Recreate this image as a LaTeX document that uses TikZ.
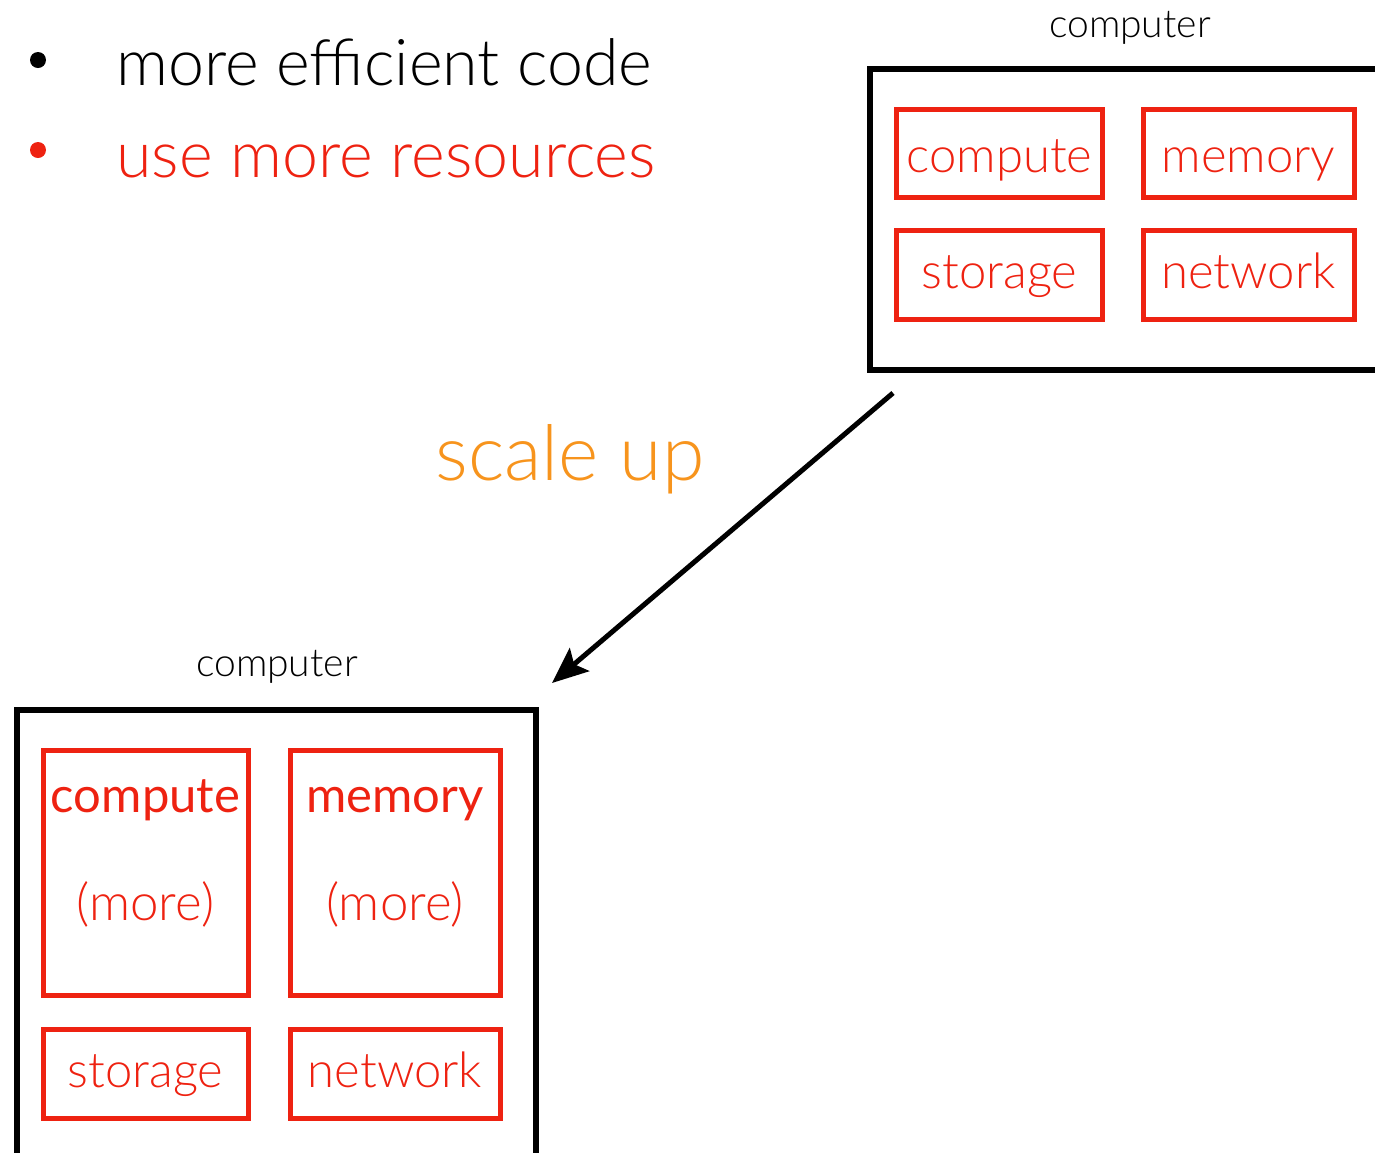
\documentclass[tikz,border=0pt]{standalone}
\usepackage{fontspec}
\setmainfont{Lato Light}[BoldFont={Lato}]
\usetikzlibrary{arrows.meta}
\definecolor{cred}{HTML}{EE2211}
\definecolor{corange}{HTML}{F7941D}
\tikzset{
  pc/.style={draw=black,line width=5.5pt},
  part/.style={draw=cred,line width=5pt,text=cred,inner sep=0pt},
  lab/.style={inner sep=0pt,anchor=base},
  ptext/.style={lab,text=cred,font=\fontsize{49}{54}\selectfont},
}
\begin{document}
\begin{tikzpicture}[x=1pt,y=-1pt]
\useasboundingbox (0,0) rectangle (1375,1152);
\begin{scope}
\clip (0,0) rectangle (1375,1152);
% bullets
\node[circle,fill=black,minimum size=16pt,inner sep=0pt] (b1) at (38,60) {};
\node[circle,fill=cred,minimum size=16pt,inner sep=0pt] (b2) at (38,150) {};
\node[lab,anchor=base west,font=\fontsize{64.5}{70}\selectfont] (t1) at (116,85) {more efficient code};
\node[lab,anchor=base west,font=\fontsize{64.5}{70}\selectfont,text=cred] (t2) at (116,177) {use more resources};
% top computer
\node[lab,font=\fontsize{39}{44}\selectfont] (c1) at (1130,37) {computer};
\draw[pc] (1385,69) -- (870,69) -- (870,370) -- (1385,370);
\node[part,minimum width=206pt,minimum height=88pt] (tcomp) at (999.5,153.5) {};
\node[ptext] at (999.5,172) {compute};
\node[part,minimum width=211pt,minimum height=88pt] (tmem) at (1248.5,153.5) {};
\node[ptext] at (1248.5,172) {memory};
\node[part,minimum width=206pt,minimum height=89pt] (tsto) at (999.5,274.5) {};
\node[ptext] at (999.5,288) {storage};
\node[part,minimum width=211pt,minimum height=89pt] (tnet) at (1248.5,274.5) {};
\node[ptext] at (1248.5,288) {network};
% scale up
\node[lab,text=corange,font=\fontsize{77}{84}\selectfont] (su) at (570,480) {scale up};
\coordinate (as) at (893,393);
\coordinate (ae) at (552,683);
\draw[line width=5pt,-{Stealth[length=36pt,width=30pt,inset=7pt]}] (as) -- (ae);
% bottom computer
\node[lab,font=\fontsize{39}{44}\selectfont] (c2) at (277,676) {computer};
\draw[pc] (17,1165) -- (17,710) -- (536,710) -- (536,1165);
\node[part,minimum width=205pt,minimum height=245pt] (bcomp) at (145.5,872.5) {};
\node[lab,text=cred,font=\fontsize{49}{54}\selectfont\bfseries] at (145.5,812) {compute};
\node[ptext,font=\fontsize{51}{56}\selectfont] at (145.5,920) {(more)};
\node[part,minimum width=210pt,minimum height=245pt] (bmem) at (395,872.5) {};
\node[lab,text=cred,font=\fontsize{49}{54}\selectfont\bfseries] at (395,812) {memory};
\node[ptext,font=\fontsize{51}{56}\selectfont] at (395,920) {(more)};
\node[part,minimum width=205pt,minimum height=89pt] (bsto) at (145.5,1073.5) {};
\node[ptext] at (145.5,1087) {storage};
\node[part,minimum width=210pt,minimum height=89pt] (bnet) at (395,1073.5) {};
\node[ptext] at (395,1087) {network};
\end{scope}
\end{tikzpicture}
\end{document}
